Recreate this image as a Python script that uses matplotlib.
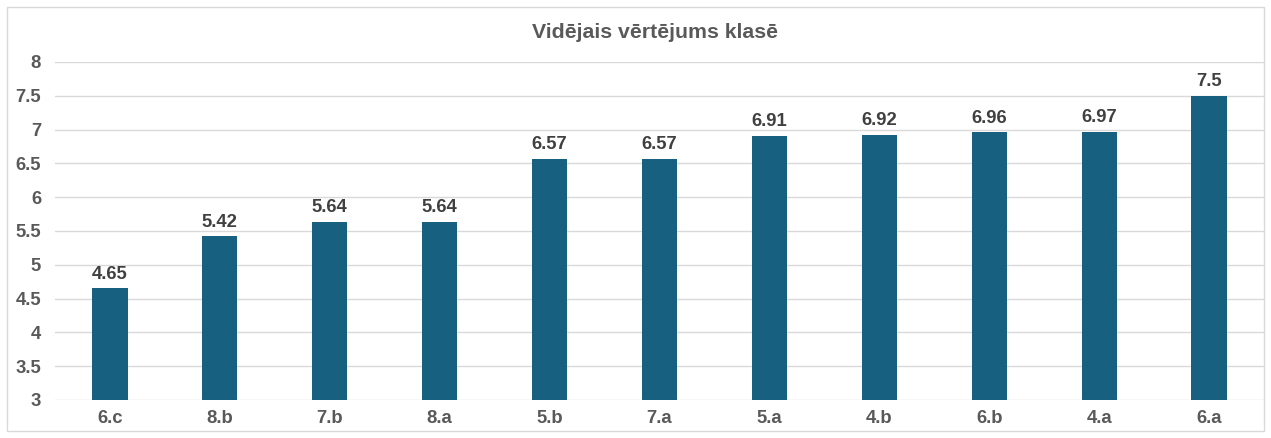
import matplotlib
matplotlib.use("Agg")
import matplotlib.pyplot as plt
from matplotlib.patches import Rectangle

categories = ["6.c", "8.b", "7.b", "8.a", "5.b", "7.a", "5.a", "4.b", "6.b", "4.a", "6.a"]
values = [4.65, 5.42, 5.64, 5.64, 6.57, 6.57, 6.91, 6.92, 6.96, 6.97, 7.5]
yticks = [3, 3.5, 4, 4.5, 5, 5.5, 6, 6.5, 7, 7.5, 8]
title = "Vidējais vērtējums klasē"

plt.rcParams['font.family'] = ['Liberation Sans', 'DejaVu Sans']
TEXT = "#595959"
BAR = "#17607F"

fig = plt.figure(figsize=(12.71, 4.38), dpi=100)
fig.patches.append(Rectangle((7/1271, 1 - 431/438), 1257/1271, 424/438, transform=fig.transFigure,
                             fill=False, edgecolor="#D9D9D9", linewidth=1))
ax = fig.add_axes([55/1271, 1 - 400/438, (1264 - 55)/1271, (400 - 62)/438])
x = range(len(categories))
ax.bar(x, values, width=0.32, color=BAR, zorder=3)
ax.set_ylim(3, 8)
ax.set_xlim(-0.5, len(categories) - 0.5)
ax.set_yticks(yticks)
ax.set_yticklabels([f"{t:g}" for t in yticks])
ax.set_xticks(list(x))
ax.set_xticklabels(categories)
ax.grid(axis="y", color="#D9D9D9", linewidth=1, zorder=0)
for s in ax.spines.values():
    s.set_visible(False)
ax.tick_params(length=0, colors=TEXT, labelsize=13.3)
for lab in ax.get_xticklabels() + ax.get_yticklabels():
    lab.set_fontweight("bold")
ax.tick_params(axis="y", pad=10)
ax.tick_params(axis="x", pad=7)
for i, v in enumerate(values):
    ax.annotate(f"{v:g}", (i, v), xytext=(0, 4), textcoords="offset points",
                ha="center", va="bottom", fontsize=13.3, fontweight="bold", color="#404040")
fig.text(655/1271, 1 - 32/438, title, ha="center", va="center", fontsize=15.3, fontweight="bold", color=TEXT)
fig.savefig("out.png", dpi=100, facecolor="white")
